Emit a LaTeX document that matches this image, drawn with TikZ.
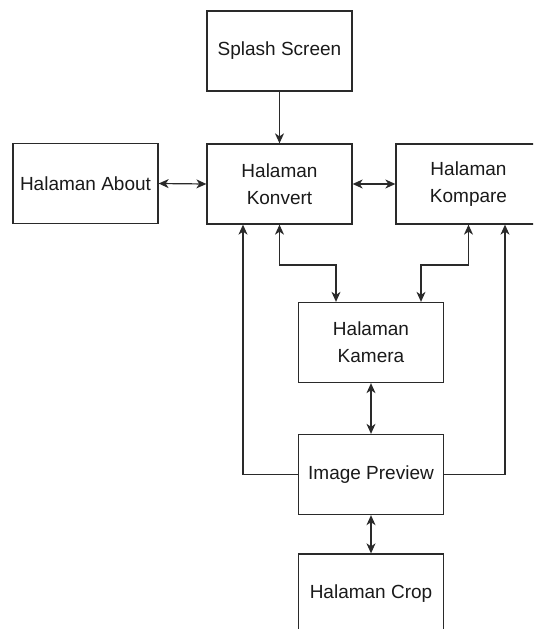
\documentclass[tikz,border=0pt]{standalone}
\usepackage{fontspec}
\setmainfont{Liberation Sans}
\usetikzlibrary{arrows.meta,calc}
\definecolor{linec}{HTML}{2A2A2A}
\definecolor{textc}{HTML}{1A1A1A}
\tikzset{
  pagebox/.style={draw=linec, line width=1.3pt, fill=white, minimum width=145pt, minimum height=80pt,
    inner sep=0pt, align=center, text=textc, font=\fontsize{19}{27}\selectfont},
  conn/.style={draw=linec, line width=1.2pt},
  tip/.style={-{Stealth[length=10pt,width=9pt,inset=3pt]}},
  tips/.style={{Stealth[length=10pt,width=9pt,inset=3pt]}-{Stealth[length=10pt,width=9pt,inset=3pt]}}
}
\begin{document}
\begin{tikzpicture}[x=1pt,y=-1pt]
\clip (0,0) rectangle (533,629);
\fill[white] (0,0) rectangle (533,629);
\node[pagebox] (splash) at (279.5,51) {Splash Screen};
\node[pagebox] (about) at (85.5,183.5) {Halaman About};
\node[pagebox] (konvert) at (279.5,184) {Halaman\\Konvert};
\node[pagebox] (kompare) at (468.5,184) {Halaman\\Kompare};
\node[pagebox] (kamera) at (371,342.5) {Halaman\\Kamera};
\node[pagebox] (preview) at (371,474.5) {Image Preview};
\node[pagebox] (crop) at (371,594) {Halaman Crop};
\coordinate (kvL) at ($(konvert.south)+(-36.5,0)$);
\coordinate (kpR) at ($(kompare.south)+(36.5,0)$);
\coordinate (kmL) at ($(kamera.north)+(-35,0)$);
\coordinate (kmR) at ($(kamera.north)+(50,0)$);
\draw[conn,tip] (splash.south) -- (konvert.north);
\draw[conn,tips] (about.east) -- (konvert.west);
\draw[conn,tips] (konvert.east) -- (kompare.west);
\draw[conn,tip] (preview.west) -| (kvL);
\draw[conn,tip] (preview.east) -| (kpR);
\draw[conn,tips] (konvert.south) |- (kmL |- 0,265) -- (kmL);
\draw[conn,tips] (kompare.south) |- (kmR |- 0,265) -- (kmR);
\draw[conn,tips] (kamera.south) -- (preview.north);
\draw[conn,tips] (preview.south) -- (crop.north);
\end{tikzpicture}
\end{document}
